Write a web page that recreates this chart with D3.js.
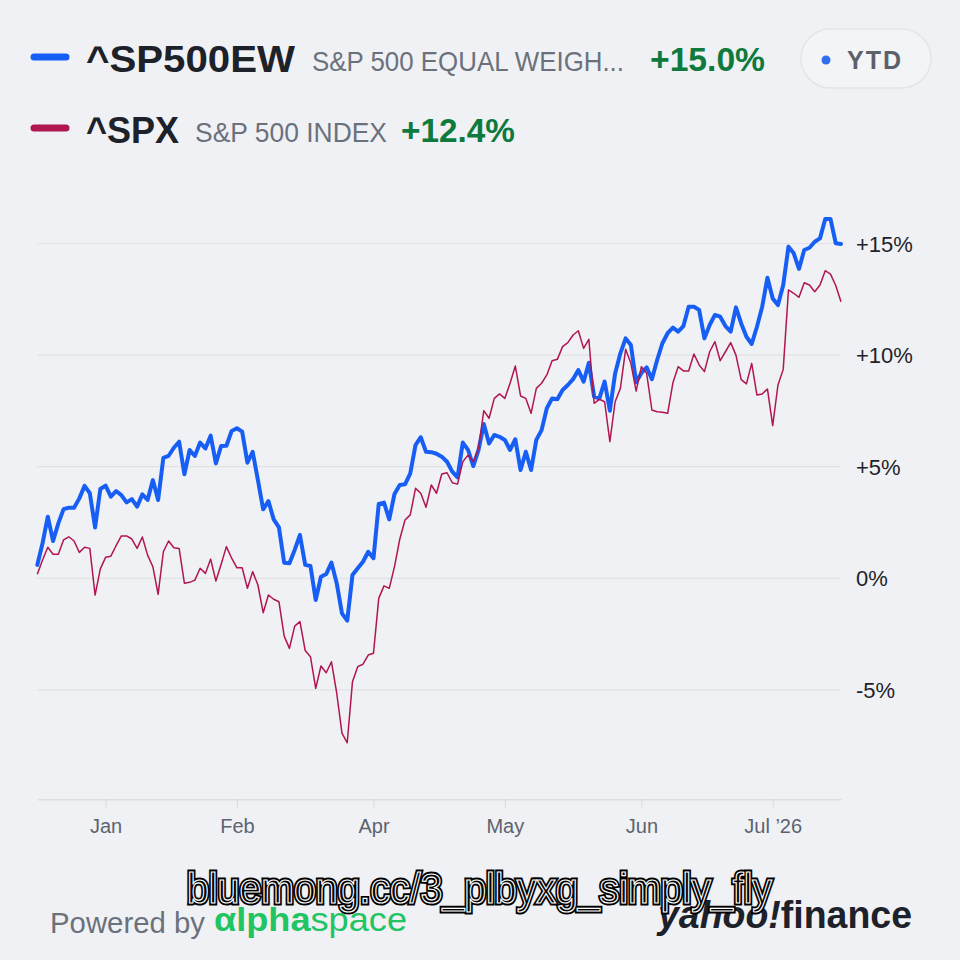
<!DOCTYPE html>
<html>
<head>
<meta charset="utf-8">
<script src="https://cdn.jsdelivr.net/npm/d3@7"></script>
<style>
  html, body { margin: 0; padding: 0; background: #f0f1f4; }
  svg { display: block; font-family: "Liberation Sans", Arial, sans-serif; }
</style>
</head>
<body>
<svg id="chart-svg"></svg>
<script>
// ^SP500EW, % change since start (one value per session)
const ewValues = [
    0.60, 1.57, 2.76, 1.67, 2.46, 3.10, 3.16, 3.16, 3.58, 4.14,
    3.81, 2.28, 4.00, 4.15, 3.66, 3.91, 3.73, 3.40, 3.55, 3.21,
    3.76, 3.51, 4.40, 3.51, 5.40, 5.49, 5.85, 6.12, 4.66, 5.75,
    5.48, 6.08, 5.82, 6.39, 5.15, 5.93, 5.94, 6.60, 6.72, 6.57,
    5.18, 5.67, 4.40, 3.09, 3.46, 2.64, 2.28, 0.70, 0.67, 1.27,
    1.94, 0.60, 0.55, -0.97, 0.07, 0.19, 0.70, -0.22, -1.57, -1.90,
    0.15, 0.45, 0.74, 1.19, 0.90, 3.33, 3.39, 2.64, 3.78, 4.18,
    4.21, 4.70, 5.97, 6.32, 5.67, 5.65, 5.58, 5.45, 5.22, 4.78,
    4.52, 6.08, 5.75, 5.03, 5.75, 6.91, 6.04, 6.42, 6.34, 6.20,
    5.75, 6.23, 4.85, 5.67, 4.85, 6.20, 6.64, 7.62, 8.06, 8.02,
    8.44, 8.66, 8.92, 9.33, 8.81, 9.66, 8.14, 8.06, 8.81, 7.51,
    9.18, 10.08, 10.75, 10.45, 8.78, 9.20, 9.45, 8.92, 9.78, 10.53,
    10.98, 11.23, 11.05, 11.30, 12.17, 12.17, 12.02, 10.75, 11.35, 11.80,
    11.72, 11.30, 11.05, 12.14, 11.42, 10.82, 10.50, 11.27, 12.17, 13.47,
    12.54, 12.24, 13.14, 14.86, 14.56, 13.86, 14.71, 14.81, 15.08, 15.23,
    16.10, 16.10, 15.01, 14.98
];

// ^SPX, % change since start
const spxValues = [
    0.18, 0.82, 1.39, 1.08, 1.08, 1.72, 1.86, 1.67, 1.16, 1.39,
    1.34, -0.75, 0.42, 0.94, 0.99, 1.46, 1.90, 1.90, 1.76, 1.34,
    1.85, 1.04, 0.52, -0.72, 1.19, 1.67, 1.37, 1.34, -0.22, -0.18,
    -0.08, 0.45, 0.22, 0.86, -0.12, 0.63, 1.42, 0.90, 0.47, 0.47,
    -0.45, 0.30, -0.30, -1.54, -0.75, -0.94, -1.05, -2.59, -3.14, -2.14,
    -1.94, -3.24, -3.51, -4.93, -3.93, -4.23, -3.74, -5.15, -6.94, -7.37,
    -4.63, -3.96, -3.85, -3.44, -3.36, -0.90, -0.34, -0.45, 0.52, 1.75,
    2.61, 2.84, 4.03, 3.81, 3.18, 4.18, 3.81, 4.67, 4.73, 4.28,
    4.22, 5.22, 5.52, 5.22, 5.82, 7.51, 7.17, 8.06, 8.26, 8.06,
    8.74, 9.51, 8.17, 8.06, 7.39, 8.51, 8.74, 9.11, 9.75, 9.81,
    10.38, 10.56, 10.90, 11.09, 10.30, 10.71, 7.84, 8.02, 7.91, 6.12,
    7.91, 8.51, 10.26, 9.63, 8.39, 9.48, 9.18, 7.54, 7.46, 7.44,
    7.39, 8.76, 9.48, 9.29, 9.29, 10.05, 9.56, 9.26, 10.15, 10.60,
    9.75, 10.15, 10.56, 10.00, 8.90, 8.71, 9.63, 8.21, 8.26, 8.48,
    6.84, 8.66, 9.36, 12.92, 12.77, 12.59, 13.24, 13.14, 12.84, 13.14,
    13.78, 13.63, 13.12, 12.39
];

const monthLabels = ['Jan', 'Feb', 'Apr', 'May', 'Jun', 'Jul \u201926'];
const monthIndex = [13, 38, 64, 89, 115, 140];
const yTicks = [-5, 0, 5, 10, 15];

const tickers = ['^SP500EW', '^SPX'];
const names = ['S&P 500 EQUAL WEIGH...', 'S&P 500 INDEX'];
const changes = ['+15.0%', '+12.4%'];

const blue = '#175ef5';
const crimson = '#b0164f';
const green = '#0e7a3d';

window.addEventListener('load', function() {
    drawHeader();
    drawChart();
    drawFooter();
});

const svg = d3.select('#chart-svg')
    .attr('width', 960)
    .attr('height', 960);

svg.append('rect')
    .attr('width', 960).attr('height', 960)
    .attr('fill', '#f0f1f4');

function drawHeader()
{
    const colors = [blue, crimson];
    // one legend row per series
    const rows = [
        {y: 72, nameX: 312, nameW: 312, tickW: 209, chgX: 650, chgW: 115},
        {y: 143, nameX: 195, nameW: 192, tickW: 93, chgX: 401, chgW: 114}
    ];
    const g = svg.append('g').attr('id', 'header');

    rows.forEach((r, i) => {
        g.append('line')
            .attr('x1', 34).attr('x2', 66)
            .attr('y1', r.y - 15).attr('y2', r.y - 15)
            .attr('stroke', colors[i])
            .attr('stroke-width', 7)
            .attr('stroke-linecap', 'round');
        g.append('text')
            .attr('x', 86).attr('y', r.y)
            .attr('font-size', 37).attr('font-weight', 'bold')
            .attr('fill', '#1d2129')
            .attr('textLength', r.tickW).attr('lengthAdjust', 'spacingAndGlyphs')
            .text(tickers[i]);
        g.append('text')
            .attr('x', r.nameX).attr('y', r.y - 1)
            .attr('font-size', 28)
            .attr('fill', '#6b717c')
            .attr('textLength', r.nameW).attr('lengthAdjust', 'spacingAndGlyphs')
            .text(names[i]);
        g.append('text')
            .attr('x', r.chgX).attr('y', r.y - 1)
            .attr('font-size', 33).attr('font-weight', 'bold')
            .attr('fill', green)
            .attr('textLength', r.chgW).attr('lengthAdjust', 'spacingAndGlyphs')
            .text(changes[i]);
    });

    // YTD range button
    const btn = g.append('g').attr('transform', 'translate(801,29)');
    btn.append('rect')
        .attr('width', 130).attr('height', 59)
        .attr('rx', 29.5)
        .attr('fill', '#f3f4f6')
        .attr('stroke', '#e3e5e9')
        .attr('stroke-width', 1.5);
    btn.append('circle')
        .attr('cx', 25).attr('cy', 31).attr('r', 4.5)
        .attr('fill', '#2f6ff0');
    btn.append('text')
        .attr('x', 46).attr('y', 40)
        .attr('font-size', 25).attr('font-weight', 'bold')
        .attr('letter-spacing', 2)
        .attr('fill', '#5b616b')
        .text('YTD');
}

function drawChart()
{
    const x = d3.scaleLinear()
        .domain([0, ewValues.length - 1])
        .range([37.3, 841]);
    const y = d3.scaleLinear()
        .domain([-5, 15])
        .range([689.9, 243.5]);
    const bottom = y(-9.9);

    const g = svg.append('g').attr('id', 'plot');

    // gridlines
    g.append('g').selectAll('line')
        .data(yTicks)
        .join('line')
            .attr('x1', x.range()[0]).attr('x2', x.range()[1])
            .attr('y1', d => y(d)).attr('y2', d => y(d))
            .attr('stroke', '#e0e2e6')
            .attr('stroke-width', 1.2);

    // right-hand labels
    g.append('g').selectAll('text')
        .data(yTicks)
        .join('text')
            .attr('x', 856)
            .attr('y', d => y(d) + 8)
            .attr('font-size', 22)
            .attr('fill', '#1f2329')
            .text(d => (d > 0 ? '+' : d < 0 ? '-' : '') + Math.abs(d) + '%');

    // bottom axis
    const xAxis = d3.axisBottom(x)
        .tickValues(monthIndex)
        .tickSizeInner(9)
        .tickSizeOuter(0)
        .tickPadding(11)
        .tickFormat((d, i) => monthLabels[i]);
    const axG = g.append('g')
        .attr('transform', `translate(0,${bottom})`)
        .call(xAxis);
    axG.select('.domain').attr('stroke', '#dcdee2').attr('stroke-width', 1.5);
    axG.selectAll('.tick line').attr('stroke', '#d9dbe0');
    axG.selectAll('.tick text')
        .attr('font-size', 20)
        .attr('font-family', '"Liberation Sans", Arial, sans-serif')
        .attr('fill', '#5c6370');

    const line = d3.line()
        .x((d, i) => x(i))
        .y(d => y(d));

    g.append('path')
        .datum(ewValues)
        .attr('d', line)
        .attr('fill', 'none')
        .attr('stroke', blue)
        .attr('stroke-width', 4)
        .attr('stroke-linejoin', 'round')
        .attr('stroke-linecap', 'round');

    g.append('path')
        .datum(spxValues)
        .attr('d', line)
        .attr('fill', 'none')
        .attr('stroke', crimson)
        .attr('stroke-width', 1.5)
        .attr('stroke-linejoin', 'round');
}

function drawFooter()
{
    const g = svg.append('g').attr('id', 'footer');

    g.append('text')
        .attr('x', 50).attr('y', 933)
        .attr('font-size', 29)
        .attr('fill', '#6b717c')
        .attr('textLength', 155).attr('lengthAdjust', 'spacingAndGlyphs')
        .text('Powered by');

    const alpha = g.append('text')
        .attr('x', 214).attr('y', 931)
        .attr('font-size', 33)
        .attr('fill', '#21c463')
        .attr('textLength', 193).attr('lengthAdjust', 'spacingAndGlyphs');
    alpha.append('tspan').attr('font-weight', 'bold').text('\u03b1lpha');
    alpha.append('tspan').text('space');

    const yf = g.append('text')
        .attr('x', 658).attr('y', 928)
        .attr('font-size', 38)
        .attr('font-weight', 'bold')
        .attr('fill', '#1d2129')
        .attr('textLength', 254).attr('lengthAdjust', 'spacingAndGlyphs');
    yf.append('tspan').attr('font-style', 'italic').text('yahoo!');
    yf.append('tspan').text('finance');

    // overlaid link text
    const mark = 'bluemong.cc/3_plbyxg_simply_fly';
    g.append('text')
        .attr('x', 187).attr('y', 903)
        .attr('font-size', 42)
        .attr('fill', '#000')
        .attr('stroke', '#000').attr('stroke-width', 5)
        .attr('textLength', 585).attr('lengthAdjust', 'spacingAndGlyphs')
        .text(mark);
    g.append('text')
        .attr('x', 187).attr('y', 903)
        .attr('font-size', 42)
        .attr('fill', '#000')
        .attr('stroke', '#fff').attr('stroke-width', 1.2)
        .attr('textLength', 585).attr('lengthAdjust', 'spacingAndGlyphs')
        .text(mark);
}
</script>
</body>
</html>
